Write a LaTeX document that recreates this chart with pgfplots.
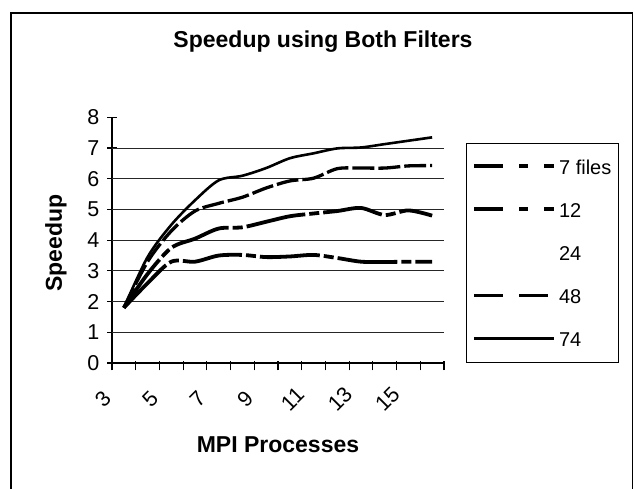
\documentclass[border=0pt]{standalone}
\usepackage{fontspec}
\setmainfont{Liberation Sans}
\usepackage{pgfplots}
\pgfplotsset{compat=1.18}
\begin{document}
\begin{tikzpicture}[x=1pt,y=1pt]
\path[use as bounding box] (0,0) rectangle (635,489);
\draw[line width=1.3pt] (11,-5) -- (11,476) -- (632.5,476) -- (632.5,-5);
\node[font=\fontsize{23}{27}\selectfont\bfseries] at (323,447) {Speedup using Both Filters};
\node[font=\fontsize{23}{27}\selectfont\bfseries] at (278,44) {MPI Processes};
\node[rotate=90,font=\fontsize{23}{27}\selectfont\bfseries] at (56,246) {Speedup};
\begin{axis}[
  at={(112pt,126pt)}, anchor=south west,
  scale only axis, width=332pt, height=245.6pt,
  xmin=-0.5, xmax=13.5, ymin=0, ymax=8,
  axis x line*=bottom, axis y line*=left,
  axis line style={line width=1.3pt, -},
  tick style={line width=1.2pt, black},
  tick align=center, major tick length=9pt,
  xtick={-0.5,0.5,...,13.5}, xticklabels={},
  every major x tick/.append style={yshift=-3pt},
  extra x ticks={0,2,4,6,8,10,12},
  extra x tick labels={3,5,7,9,11,13,15},
  extra x tick style={major tick length=0pt},
  xticklabel style={xshift=-21pt, yshift=-36pt, rotate=45, anchor=center},
  ytick={0,1,...,8},
  yticklabel style={inner sep=0pt, xshift=-8pt},
  extra y ticks={1,2,...,7}, extra y tick labels={},
  extra y tick style={grid=major, major tick length=0pt},
  major grid style={line width=1pt, black!85},
  tick label style={font=\fontsize{21.5}{25}\selectfont},
  /pgf/number format/assume math mode=true,
  legend style={at={(axis description cs:1.066,0.896)}, anchor=north west,
    draw=black, line width=1.2pt, inner xsep=6pt, inner ysep=11.5pt,
    row sep=19pt, font=\fontsize{20}{23}\selectfont,
    nodes={inner xsep=1pt, inner ysep=1pt, text height=14pt, text depth=4pt},
    /tikz/column sep=2pt, cells={anchor=west}},
  legend entries={7 files,12,24,48,74},
]
\addlegendimage{legend image code/.code={\path[draw=none,fill=none] (0pt,-4pt) rectangle (80pt,14pt); \draw[black, line width=3.6pt, dash pattern=on 29pt off 16pt on 9pt off 16pt on 10pt off 20pt] (0pt,3pt) -- (80pt,3pt);}}
\addlegendimage{legend image code/.code={\path[draw=none,fill=none] (0pt,-4pt) rectangle (80pt,14pt); \draw[black, line width=3.6pt, dash pattern=on 29pt off 16pt on 9pt off 16pt on 10pt off 20pt] (0pt,3pt) -- (80pt,3pt);}}
\addlegendimage{legend image code/.code={\path[draw=none,fill=none] (0pt,-4pt) rectangle (80pt,14pt);}}
\addlegendimage{legend image code/.code={\path[draw=none,fill=none] (0pt,-4pt) rectangle (80pt,14pt); \draw[black, line width=3pt, dash pattern=on 29pt off 16pt on 29pt off 20pt] (0pt,3pt) -- (80pt,3pt);}}
\addlegendimage{legend image code/.code={\path[draw=none,fill=none] (0pt,-4pt) rectangle (80pt,14pt); \draw[black, line width=3pt] (0pt,3pt) -- (80pt,3pt);}}

% 7 files
\addplot[forget plot, black, line width=3.8pt, smooth, dash pattern=on 60pt off 4pt on 10pt off 4pt] coordinates {
(0,1.8) (1,2.6) (2,3.3) (3,3.3) (4,3.5) (5,3.52) (6,3.45) (7,3.47) (8,3.52) (9,3.42) (10,3.3) (11,3.29) (12,3.3) (13,3.3)};
% 12
\addplot[forget plot, black, line width=3.8pt, smooth, dash pattern=on 60pt off 4pt on 10pt off 4pt] coordinates {
(0,1.8) (1,2.9) (2,3.75) (3,4.05) (4,4.38) (5,4.42) (6,4.6) (7,4.78) (8,4.87) (9,4.95) (10,5.05) (11,4.82) (12,4.97) (13,4.8)};
% 24 (not visible in the reference)
\addplot[forget plot, draw=none, smooth] coordinates {
(0,1.8) (1,3.2) (2,4.2) (3,4.7) (4,5.0) (5,5.2) (6,5.3) (7,5.4) (8,5.5) (9,5.55) (10,5.6) (11,5.6) (12,5.65) (13,5.7)};
% 48
\addplot[forget plot, black, line width=3.3pt, smooth, dash pattern=on 22pt off 4pt] coordinates {
(0,1.8) (1,3.3) (2,4.3) (3,4.95) (4,5.2) (5,5.4) (6,5.7) (7,5.93) (8,6.02) (9,6.33) (10,6.35) (11,6.35) (12,6.42) (13,6.43)};
% 74
\addplot[forget plot, black, line width=2.6pt, smooth] coordinates {
(0,1.8) (1,3.45) (2,4.5) (3,5.3) (4,5.95) (5,6.1) (6,6.35) (7,6.67) (8,6.83) (9,6.99) (10,7.02) (11,7.13) (12,7.24) (13,7.35)};
\end{axis}
\end{tikzpicture}
\end{document}
